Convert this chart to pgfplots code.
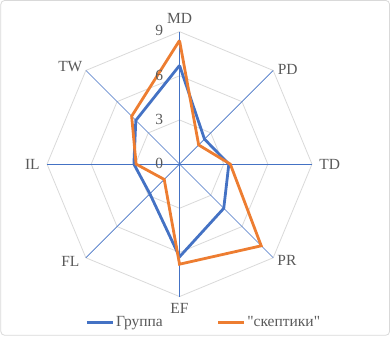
\documentclass[border=0pt]{standalone}
\usepackage{pgfplots}
\pgfplotsset{compat=1.18}
\usepackage{fontspec}
\setmainfont{Liberation Serif}
\definecolor{cblue}{HTML}{4472C4}
\definecolor{corange}{HTML}{ED7D31}
\definecolor{cgrid}{HTML}{D9D9D9}
\definecolor{ctext}{HTML}{595959}
\begin{document}
\begin{tikzpicture}
\begin{axis}[
  x=14.73pt, y=14.73pt,
  xmin=-12.17, xmax=14.30, ymin=-11.66, ymax=11.15,
  hide axis, clip=false,
  legend columns=2,
  legend style={draw=none, fill=none, font=\fontsize{15.5}{17}\selectfont, text=ctext,
    at={(axis cs:1.65,-10.75)}, anchor=center,
    /tikz/every even column/.append style={column sep=52pt},
    inner sep=0pt},
  legend image code/.code={\draw[#1, line width=2.6pt] (0pt,0pt) -- (26pt,0pt);},
]
% border
\draw[cgrid, line width=0.8pt, rounded corners=4pt] (rel axis cs:0,0) ++(0.4pt,0.4pt) rectangle ([xshift=-0.4pt,yshift=-0.4pt]rel axis cs:1,1);
% grid octagons
\addplot[cgrid, line width=0.8pt, forget plot, data cs=polar] coordinates {(90,3)(45,3)(0,3)(-45,3)(-90,3)(-135,3)(180,3)(135,3)(90,3)};
\addplot[cgrid, line width=0.8pt, forget plot, data cs=polar] coordinates {(90,6)(45,6)(0,6)(-45,6)(-90,6)(-135,6)(180,6)(135,6)(90,6)};
\addplot[cgrid, line width=0.8pt, forget plot, data cs=polar] coordinates {(90,9)(45,9)(0,9)(-45,9)(-90,9)(-135,9)(180,9)(135,9)(90,9)};
% spokes
\addplot[cblue, line width=0.9pt, forget plot, data cs=polar] coordinates {(90,9)(-90,9)};
\addplot[cblue, line width=0.9pt, forget plot, data cs=polar] coordinates {(0,9)(180,9)};
\addplot[cblue, line width=0.55pt, forget plot, data cs=polar] coordinates {(45,9)(-135,9)};
\addplot[cblue, line width=0.55pt, forget plot, data cs=polar] coordinates {(135,9)(-45,9)};
% data
\addplot[cblue, line width=2.8pt, line join=miter, data cs=polar] coordinates {
 (90,6.7)(45,2.4)(0,3.35)(-45,4.25)(-90,6.3)(-135,2.85)(180,3.1)(135,4.2)(90,6.7)};
\addlegendentry{Группа}
\addplot[corange, line width=2.8pt, line join=miter, data cs=polar] coordinates {
 (90,8.4)(45,1.84)(0,3.45)(-45,7.85)(-90,6.8)(-135,1.47)(180,2.95)(135,4.6)(90,8.4)};
\addlegendentry{\textquotedbl скептики\textquotedbl}
% labels
\begin{scope}[every node/.style={font=\fontsize{15.5}{17}\selectfont, text=ctext, inner sep=0pt}]
\node at (axis cs:0,9.93) {MD};
\node at (axis cs:7.35,6.45) {PD};
\node at (axis cs:10.2,0) {TD};
\node at (axis cs:7.3,-6.56) {PR};
\node at (axis cs:0,-9.8) {EF};
\node at (axis cs:-7.42,-6.63) {FL};
\node at (axis cs:-10.0,0) {IL};
\node at (axis cs:-7.42,6.66) {TW};
\node at (axis cs:-1.38,9.05) {9};
\node at (axis cs:-1.38,6.05) {6};
\node at (axis cs:-1.38,3.05) {3};
\node at (axis cs:-1.38,0.05) {0};
\end{scope}
\end{axis}
\end{tikzpicture}
\end{document}
